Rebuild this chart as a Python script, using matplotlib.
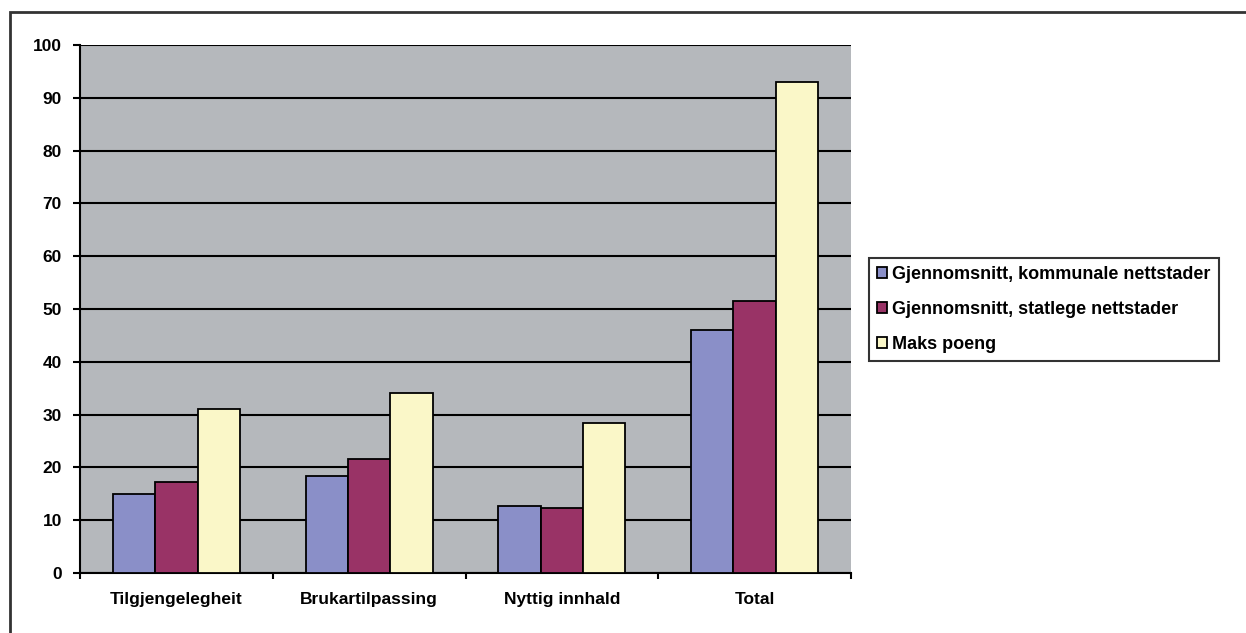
import matplotlib.pyplot as plt
import numpy as np
from matplotlib.patches import Rectangle

categories = ['Tilgjengelegheit', 'Brukartilpassing', 'Nyttig innhald', 'Total']
kommunale = [15.0, 18.4, 12.7, 46.0]
statlege = [17.2, 21.6, 12.3, 51.5]
maks = [31.1, 34.1, 28.4, 93.0]
series_names = ['Gjennomsnitt, kommunale nettstader',
                'Gjennomsnitt, statlege nettstader',
                'Maks poeng']
colors = ['#8A8FC8', '#993366', '#FAF7C8']

plt.rcParams['font.family'] = ['Liberation Sans', 'DejaVu Sans']

fig = plt.figure(figsize=(12.46, 6.33), dpi=100)
ax = fig.add_axes([80 / 1246, 1 - 573 / 633, (851 - 80) / 1246, (573 - 45) / 633])
ax.set_facecolor('#B5B8BC')

x = np.arange(len(categories))
w = 0.22
for i, vals in enumerate([kommunale, statlege, maks]):
    ax.bar(x + (i - 1) * w, vals, w, color=colors[i], edgecolor='black',
           linewidth=1.3, label=series_names[i], zorder=3)

ax.set_xlim(-0.5, 3.5)
ax.set_ylim(0, 100)
ax.set_yticks(range(0, 101, 10))
ax.yaxis.grid(True, color='black', linewidth=1.5, zorder=1)
ax.set_axisbelow(True)

ax.set_xticks(x)
ax.set_xticklabels(categories, fontsize=12.5, fontweight='bold')
ax.set_xticks(np.arange(-0.5, 3.6, 1), minor=True)
ax.tick_params(axis='x', which='major', length=0, pad=14)
ax.tick_params(axis='x', which='minor', length=4, width=1.5, direction='out')
ax.tick_params(axis='y', length=5, width=1.5, pad=8, labelsize=12.5)
for lbl in ax.get_yticklabels():
    lbl.set_fontweight('bold')

for s in ['top', 'right']:
    ax.spines[s].set_visible(False)
for s in ['left', 'bottom']:
    ax.spines[s].set_linewidth(1.5)

leg = fig.legend(loc='upper left', bbox_to_anchor=(869 / 1246, 1 - 258 / 633),
                 frameon=True, fancybox=False, edgecolor='black',
                 prop={'size': 13, 'weight': 'bold'},
                 handlelength=0.55, handleheight=0.55, handletextpad=0.3,
                 labelspacing=1.0, borderpad=0.45, borderaxespad=0)
leg.get_frame().set_linewidth(1.5)

# outer chart border (clipped by the image edge)
fig.patches.append(Rectangle((10 / 1246, -0.1), 1.2, 1.1 - 12 / 633,
                             transform=fig.transFigure, fill=False,
                             edgecolor='#333333', linewidth=2))

fig.savefig('out.png', dpi=100)
